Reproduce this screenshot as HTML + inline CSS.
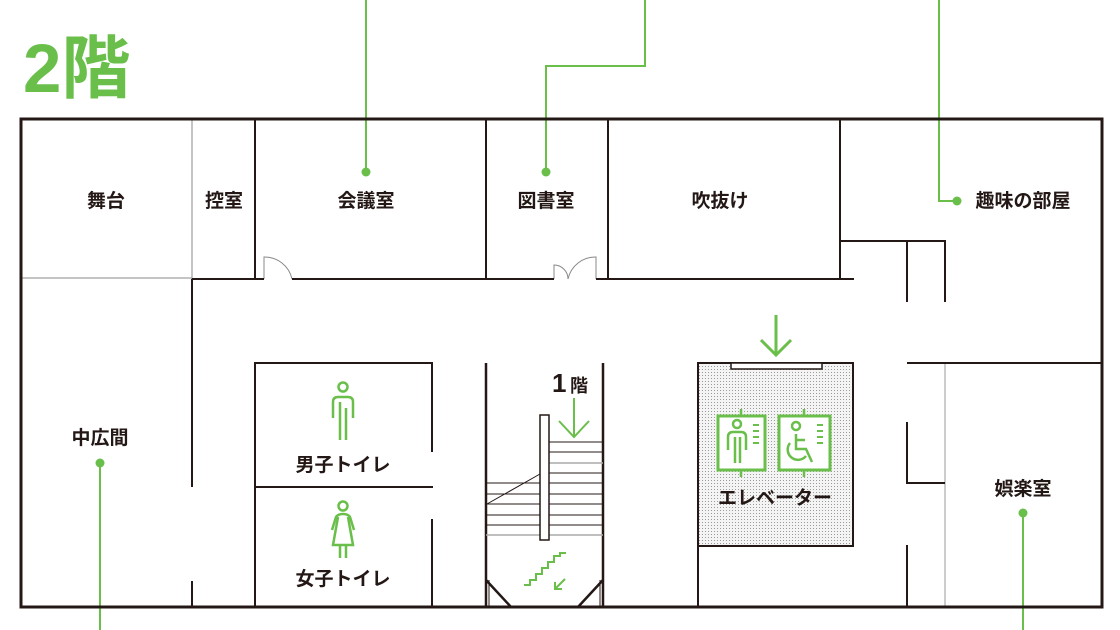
<!DOCTYPE html>
<html><head><meta charset="utf-8"><style>
html,body{margin:0;padding:0;background:#fff;}
svg{display:block;}
text{font-family:"Liberation Sans","Noto Sans CJK JP",sans-serif;font-weight:bold;fill:#231815;}
</style></head><body>
<svg width="1120" height="630" viewBox="0 0 1120 630" xmlns="http://www.w3.org/2000/svg">
<defs>
<pattern id="dots" width="3" height="3" patternUnits="userSpaceOnUse">
<rect width="3" height="3" fill="#f4f4f4"/><rect width="1" height="1" fill="#9a9a9a"/>
</pattern>
</defs>
<text x="23" y="92" font-size="69" style="fill:#6abf4b" font-weight="bold">2階</text>

<g stroke="#6abf4b" stroke-width="2" fill="none">
<line x1="366" y1="0" x2="366" y2="172"/>
<polyline points="645,0 645,66 546,66 546,172"/>
<polyline points="939,0 939,201 957,201"/>
<line x1="100" y1="462" x2="100" y2="630"/>
<line x1="1023" y1="512" x2="1023" y2="630"/>
</g>
<g fill="#6abf4b">
<circle cx="366" cy="172" r="4.5"/><circle cx="546" cy="172" r="4.5"/>
<circle cx="957" cy="201" r="4.5"/><circle cx="100" cy="463" r="4.5"/>
<circle cx="1023" cy="513" r="4.5"/>
</g>

<rect x="698" y="363" width="155" height="183" fill="url(#dots)" stroke="#231815" stroke-width="2"/>
<rect x="731" y="363" width="91" height="6" fill="#fff" stroke="#231815" stroke-width="1.5"/>

<g stroke="#888" stroke-width="1" fill="none">
<line x1="192" y1="119" x2="192" y2="279"/>
<line x1="21" y1="278" x2="192" y2="278"/>
<line x1="945" y1="363" x2="945" y2="607" stroke="#bbb" stroke-width="1.5"/>
<path d="M264,279 V257 A28,28 0 0 1 292,279"/>
<path d="M554,279 V265 A14,14 0 0 1 568,279"/>
<path d="M596,279 V257 A28,28 0 0 0 568,279"/>
</g>

<g stroke="#231815" stroke-width="2" fill="none">
<line x1="255" y1="119" x2="255" y2="279"/>
<line x1="486" y1="119" x2="486" y2="279"/>
<line x1="608" y1="119" x2="608" y2="279"/>
<line x1="840" y1="119" x2="840" y2="280"/>
<line x1="192" y1="279" x2="264" y2="279"/>
<line x1="292" y1="279" x2="554" y2="279"/>
<line x1="596" y1="279" x2="854" y2="279"/>
<line x1="192" y1="279" x2="192" y2="487"/>
<line x1="192" y1="581" x2="192" y2="607"/>
<polyline points="840,241 945,241 945,302"/>
<line x1="907" y1="241" x2="907" y2="302"/>
<line x1="907" y1="363" x2="1102" y2="363"/>
<polyline points="907,422 907,483 945,483"/>
<line x1="907" y1="545" x2="907" y2="607"/>
<polyline points="255,607 255,363 432,363 432,452"/>
<line x1="432" y1="519" x2="432" y2="607"/>
<line x1="255" y1="487" x2="433" y2="487"/>
<line x1="486" y1="363" x2="486" y2="607" stroke-width="2.5"/>
<line x1="603" y1="363" x2="603" y2="607" stroke-width="2.5"/>
<line x1="486" y1="580" x2="511" y2="607" stroke-width="2.5"/>
<line x1="603" y1="580" x2="578" y2="607" stroke-width="2.5"/>
<line x1="698" y1="546" x2="698" y2="607"/>
</g>
<g stroke="#231815" stroke-width="1" fill="none">
<line x1="489" y1="580" x2="489" y2="607"/>
<line x1="600" y1="580" x2="600" y2="607"/>
<line x1="549" y1="442" x2="603" y2="442"/>
<line x1="549" y1="452" x2="603" y2="452"/>
<line x1="549" y1="463" x2="603" y2="463" stroke="#aaa" stroke-width="1.5"/>
<line x1="549" y1="473" x2="603" y2="473"/>
<line x1="549" y1="483" x2="603" y2="483"/>
<line x1="549" y1="494" x2="603" y2="494"/>
<line x1="549" y1="504" x2="603" y2="504"/>
<line x1="549" y1="515" x2="603" y2="515"/>
<line x1="549" y1="525" x2="603" y2="525"/>
<line x1="549" y1="535" x2="603" y2="535" stroke="#aaa" stroke-width="1.5"/>
<line x1="486" y1="483" x2="540" y2="483"/>
<line x1="486" y1="494" x2="540" y2="494"/>
<line x1="486" y1="504" x2="540" y2="504"/>
<line x1="486" y1="515" x2="540" y2="515"/>
<line x1="486" y1="525" x2="540" y2="525"/>
<line x1="486" y1="535" x2="540" y2="535" stroke="#aaa" stroke-width="1.5"/>
<line x1="487" y1="504" x2="540" y2="474"/>
</g>
<rect x="540" y="415" width="9" height="125" fill="#fff" stroke="#231815" stroke-width="1.5"/>

<rect x="21" y="119" width="1081" height="488" fill="none" stroke="#231815" stroke-width="3"/>

<g stroke="#6abf4b" stroke-width="3" fill="none" stroke-linecap="butt">
<line x1="776" y1="315" x2="776" y2="354"/>
<polyline points="761,340 776,355 791,340"/>
<line x1="574" y1="398" x2="574" y2="437" stroke-width="2"/>
<polyline points="559,421 574,437 589,421" stroke-width="2"/>
<polyline points="524,585 530,585 530,580 536,580 536,574 542,574 542,568 548,568 548,562 554,562 554,556 560,556 560,553 566,553" stroke-width="2"/>
<line x1="565" y1="579" x2="555" y2="589" stroke-width="2"/>
<polyline points="555,582 555,589 562,589" stroke-width="2"/>
</g>
<g stroke="#6abf4b" stroke-width="3" fill="#fff">
<rect x="718" y="416" width="47" height="54"/>
<rect x="779" y="416" width="51" height="54"/>
</g>
<g stroke="#6abf4b" stroke-width="2.5" fill="none">
<line x1="741" y1="409" x2="741" y2="416"/><line x1="741" y1="470" x2="741" y2="477"/>
<line x1="804" y1="409" x2="804" y2="416"/><line x1="804" y1="470" x2="804" y2="477"/>
<circle cx="737" cy="424" r="4"/>
<path d="M728,450 V437 Q728,432 733,432 H741 Q746,432 746,437 V450"/>
<line x1="735" y1="437" x2="735" y2="463"/><line x1="740" y1="437" x2="740" y2="463"/>
<g stroke-width="2"><line x1="753" y1="425" x2="759" y2="425"/><line x1="753" y1="431" x2="759" y2="431"/><line x1="753" y1="437" x2="759" y2="437"/><line x1="753" y1="443" x2="759" y2="443"/>
<line x1="817" y1="425" x2="823" y2="425"/><line x1="817" y1="431" x2="823" y2="431"/><line x1="817" y1="437" x2="823" y2="437"/><line x1="817" y1="443" x2="823" y2="443"/></g>
<circle cx="796" cy="426" r="4"/>
<polyline points="796,434 796,449 806,449 812,462"/>
<line x1="796" y1="440" x2="805" y2="440"/>
<path d="M790,443 A10,10 0 1 0 806,456"/>
<circle cx="343" cy="387" r="4.5"/>
<path d="M333,418 V402 Q333,397 338,397 H348 Q353,397 353,402 V418"/>
<line x1="340" y1="402" x2="340" y2="440"/><line x1="346" y1="408" x2="346" y2="440"/>
<circle cx="343" cy="506" r="4.5"/>
<path d="M332,530 L336,517 Q338,514 343,514 Q348,514 350,517 L354,530"/>
<path d="M338,517 L333,545 H353 L348,517"/>
<line x1="340" y1="545" x2="340" y2="558"/><line x1="346" y1="545" x2="346" y2="558"/>
</g>

<g font-size="19" text-anchor="middle">
<text x="106" y="207">舞台</text>
<text x="224" y="207">控室</text>
<text x="366" y="207">会議室</text>
<text x="546" y="207">図書室</text>
<text x="720" y="207">吹抜け</text>
<text x="1023" y="207">趣味の部屋</text>
<text x="100" y="444">中広間</text>
<text x="1023" y="495">娯楽室</text>
<text x="343" y="471">男子トイレ</text>
<text x="343" y="585">女子トイレ</text>
<text x="775" y="504">エレベーター</text>
</g>
<text x="552" y="392" font-size="26" style="font-weight:bold">1</text>
<text x="570" y="392" font-size="18">階</text>
</svg>
</body></html>
